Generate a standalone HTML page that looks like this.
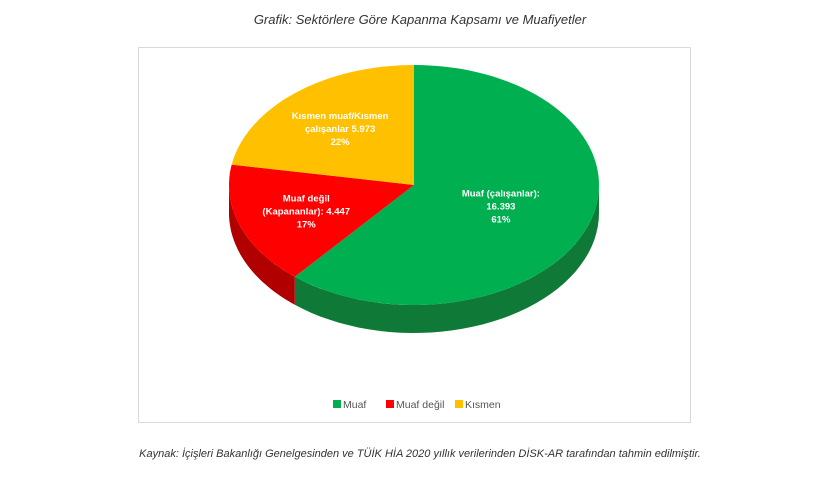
<!DOCTYPE html>
<html><head><meta charset="utf-8"><style>
body{margin:0;background:#fff;width:840px;height:472px;overflow:hidden;font-family:"Liberation Sans",sans-serif}
</style></head><body>
<svg width="840" height="472" viewBox="0 0 840 472">
<text x="420" y="24" text-anchor="middle" font-size="13" font-style="italic" fill="#333">Grafik: Sektörlere Göre Kapanma Kapsamı ve Muafiyetler</text>
<rect x="138.5" y="47.5" width="552" height="375" fill="#fff" stroke="#d9d9d9"/>
<g id="pie"></g>
<g id="legend"></g>
<text x="420" y="457" text-anchor="middle" font-size="11" font-style="italic" fill="#333">Kaynak: İçişleri Bakanlığı Genelgesinden ve TÜİK HİA 2020 yıllık verilerinden DİSK-AR tarafından tahmin edilmiştir.</text>
</svg>
<script>
const categories=["Muaf","Muaf değil","Kısmen"];
const values=[16393,4447,5973];
const labelLines=[["Muaf (çalışanlar):","16.393","61%"],["Muaf değil","(Kapananlar):  4.447","17%"],["Kısmen muaf/Kısmen","çalışanlar  5.973","22%"]];
const colors=["#00b050","#ff0000","#ffc000"];
const sideColors=["#0f7a38","#b00000","#c89400"];
const NS="http://www.w3.org/2000/svg";
const cx=414,cy=185,rx=185,ry=120,depth=28;
const pie=document.getElementById('pie');
const total=values.reduce((a,b)=>a+b,0);
function pt(t,dy){return [cx+rx*Math.cos(t),cy+ry*Math.sin(t)+(dy||0)];}
let start=-Math.PI/2;
const slices=values.map(v=>{const s=start;const e=s+v/total*2*Math.PI;start=e;return [s,e];});
// sides
slices.forEach(([s,e],i)=>{
  // visible front: t in [0,PI] mod 2PI
  for(let k=-1;k<=1;k++){
    const a=Math.max(s,k*2*Math.PI),b=Math.min(e,k*2*Math.PI+Math.PI);
    if(b<=a)continue;
    const n=40;let d="";
    for(let j=0;j<=n;j++){const p=pt(a+(b-a)*j/n);d+=(j?"L":"M")+p[0].toFixed(1)+","+p[1].toFixed(1);}
    for(let j=n;j>=0;j--){const p=pt(a+(b-a)*j/n,depth);d+="L"+p[0].toFixed(1)+","+p[1].toFixed(1);}
    const path=document.createElementNS(NS,'path');
    path.setAttribute('d',d+"Z");path.setAttribute('fill',sideColors[i]);
    
    
    pie.appendChild(path);
  }
});
// tops
slices.forEach(([s,e],i)=>{
  const n=80;let d="M"+cx+","+cy;
  for(let j=0;j<=n;j++){const p=pt(s+(e-s)*j/n);d+="L"+p[0].toFixed(1)+","+p[1].toFixed(1);}
  const path=document.createElementNS(NS,'path');
  path.setAttribute('d',d+"Z");path.setAttribute('fill',colors[i]);
  
  
  pie.appendChild(path);
});
// labels
slices.forEach(([s,e],i)=>{
  const m=(s+e)/2;const f=i==0?0.5:0.62;
  const x=cx+rx*f*Math.cos(m),y=cy+ry*f*Math.sin(m);
  const t=document.createElementNS(NS,'text');
  t.setAttribute('text-anchor','middle');t.setAttribute('font-size','9.5');t.setAttribute('font-weight','bold');t.setAttribute('fill','#fff');
  
  
  labelLines[i].forEach((l,j)=>{const ts=document.createElementNS(NS,'tspan');ts.setAttribute('x',x);ts.setAttribute('y',y-9+j*13);ts.textContent=l;t.appendChild(ts);});
  pie.appendChild(t);
});
// legend
const lg=document.getElementById('legend');
const lx=[333,386,455];
categories.forEach((c,i)=>{
  const r=document.createElementNS(NS,'rect');
  r.setAttribute('x',lx[i]);r.setAttribute('y',400);r.setAttribute('width',8);r.setAttribute('height',8);r.setAttribute('fill',colors[i]);
  
  
  lg.appendChild(r);
  const t=document.createElementNS(NS,'text');
  t.setAttribute('x',lx[i]+10);t.setAttribute('y',408);t.setAttribute('font-size','10.5');t.setAttribute('fill','#555');t.textContent=c;
  
  
  lg.appendChild(t);
});
</script>
</body></html>
